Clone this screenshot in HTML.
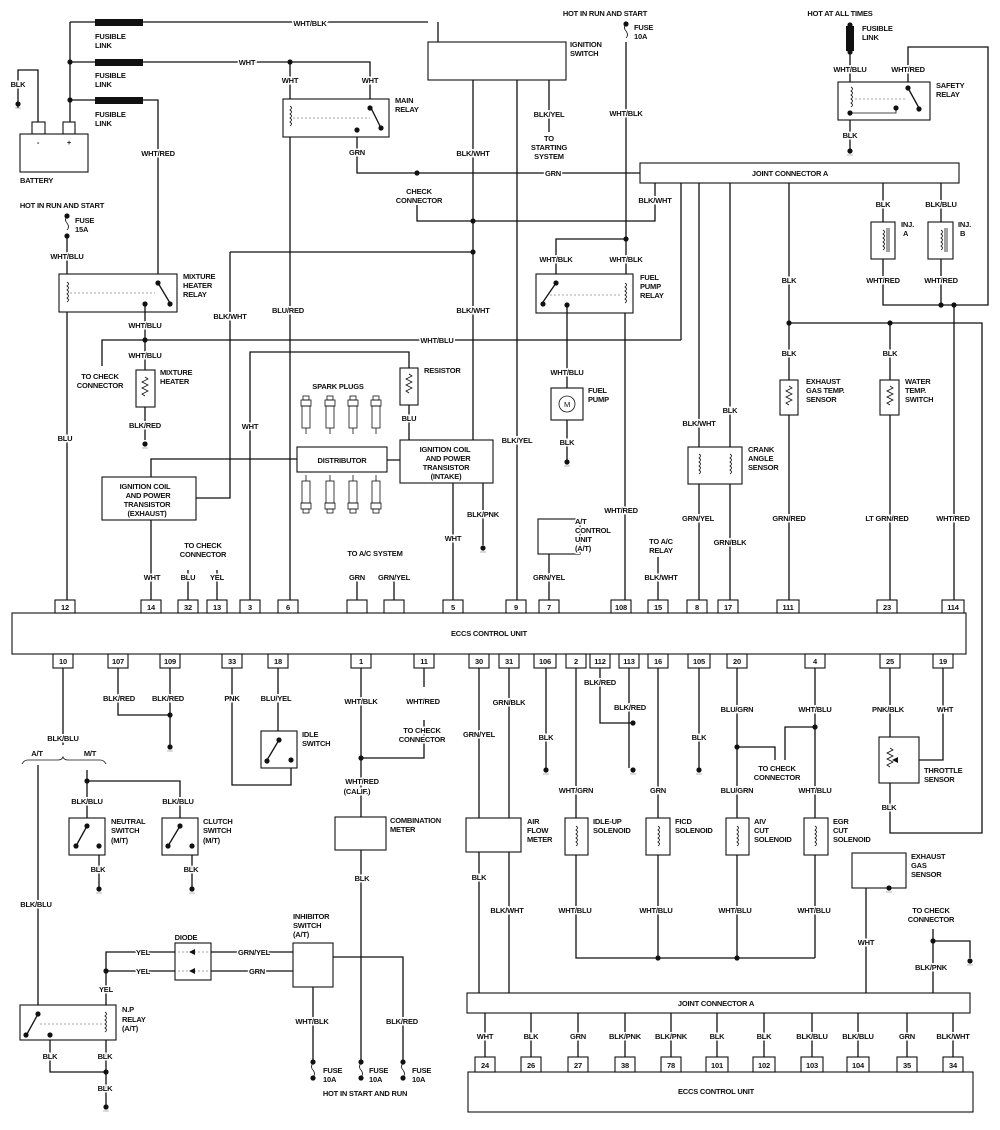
<!DOCTYPE html>
<html><head><meta charset="utf-8"><style>
html,body{margin:0;padding:0;background:#fff;}
svg{display:block;}
text{font-family:"Liberation Sans",sans-serif;font-weight:bold;font-size:7.5px;fill:#111;text-anchor:middle;stroke:#fff;stroke-width:3px;paint-order:stroke;letter-spacing:-0.2px;}
text.l{text-anchor:start;}
.w{stroke:#111;stroke-width:1.3;fill:none;}
.b{stroke:#111;stroke-width:1.1;fill:#fff;}
.d{stroke:#888;stroke-width:0.8;stroke-dasharray:2 2;fill:none;}
.c{stroke:#111;stroke-width:0.8;fill:none;}
</style></head><body>
<svg width="1000" height="1130" viewBox="0 0 1000 1130" xmlns="http://www.w3.org/2000/svg">
<defs>
<g id="gnd"><circle cx="0" cy="0" r="2.6" fill="#111"/><line x1="-3" y1="4" x2="3" y2="4" stroke="#999" stroke-width="0.7"/></g>
<g id="dot"><circle cx="0" cy="0" r="2.6" fill="#111"/></g>
<g id="coil"><path class="c" d="M0,0 q3,2 0,4 q3,2 0,4 q3,2 0,4 q3,2 0,4 q3,2 0,4"/></g>
<g id="res"><path class="c" d="M0,0 l3,2 l-6,3 l6,3 l-6,3 l6,3 l-6,3 l3,2"/></g>
<g id="plug"><rect x="-3" y="-4" width="6" height="4" class="c"/><rect x="-5" y="0" width="10" height="6" class="c"/><rect x="-4" y="6" width="8" height="22" class="c"/><line x1="0" y1="28" x2="0" y2="34" class="c"/></g>
<g id="plug2"><line x1="0" y1="-6" x2="0" y2="0" class="c"/><rect x="-4" y="0" width="8" height="22" class="c"/><rect x="-5" y="22" width="10" height="6" class="c"/><rect x="-3" y="28" width="6" height="4" class="c"/></g>
</defs>

<!-- ===== ECCS main ===== -->
<rect x="12" y="613" width="954" height="41" class="b"/>
<text x="489" y="636">ECCS CONTROL UNIT</text>
<g class="b">
<rect x="55" y="600" width="20" height="13"/><rect x="141" y="600" width="20" height="13"/><rect x="178" y="600" width="20" height="13"/><rect x="207" y="600" width="20" height="13"/><rect x="240" y="600" width="20" height="13"/><rect x="278" y="600" width="20" height="13"/><rect x="347" y="600" width="20" height="13"/><rect x="384" y="600" width="20" height="13"/><rect x="443" y="600" width="20" height="13"/><rect x="506" y="600" width="20" height="13"/><rect x="539" y="600" width="20" height="13"/><rect x="611" y="600" width="20" height="13"/><rect x="648" y="600" width="20" height="13"/><rect x="687" y="600" width="20" height="13"/><rect x="718" y="600" width="20" height="13"/><rect x="777" y="600" width="22" height="13"/><rect x="877" y="600" width="20" height="13"/><rect x="942" y="600" width="22" height="13"/>
<rect x="53" y="654" width="20" height="14"/><rect x="108" y="654" width="20" height="14"/><rect x="160" y="654" width="20" height="14"/><rect x="222" y="654" width="20" height="14"/><rect x="268" y="654" width="20" height="14"/><rect x="351" y="654" width="20" height="14"/><rect x="414" y="654" width="20" height="14"/><rect x="469" y="654" width="20" height="14"/><rect x="499" y="654" width="20" height="14"/><rect x="534" y="654" width="22" height="14"/><rect x="566" y="654" width="20" height="14"/><rect x="590" y="654" width="20" height="14"/><rect x="619" y="654" width="20" height="14"/><rect x="648" y="654" width="20" height="14"/><rect x="688" y="654" width="22" height="14"/><rect x="727" y="654" width="20" height="14"/><rect x="805" y="654" width="20" height="14"/><rect x="880" y="654" width="20" height="14"/><rect x="933" y="654" width="20" height="14"/>
</g>
<g>
<text x="65" y="610">12</text><text x="151" y="610">14</text><text x="188" y="610">32</text><text x="217" y="610">13</text><text x="250" y="610">3</text><text x="288" y="610">6</text><text x="453" y="610">5</text><text x="516" y="610">9</text><text x="549" y="610">7</text><text x="621" y="610">108</text><text x="658" y="610">15</text><text x="697" y="610">8</text><text x="728" y="610">17</text><text x="788" y="610">111</text><text x="887" y="610">23</text><text x="953" y="610">114</text>
<text x="63" y="664">10</text><text x="118" y="664">107</text><text x="170" y="664">109</text><text x="232" y="664">33</text><text x="278" y="664">18</text><text x="361" y="664">1</text><text x="424" y="664">11</text><text x="479" y="664">30</text><text x="509" y="664">31</text><text x="545" y="664">106</text><text x="576" y="664">2</text><text x="600" y="664">112</text><text x="629" y="664">113</text><text x="658" y="664">16</text><text x="699" y="664">105</text><text x="737" y="664">20</text><text x="815" y="664">4</text><text x="890" y="664">25</text><text x="943" y="664">19</text>
</g>

<!-- ===== Top left: battery & fusible links ===== -->
<g class="w">
<path d="M70,22 V125"/>
<path d="M70,22 H95 M135,22 H428 M438,22 V42"/>
<path d="M70,62 H95 M135,62 H370 V99 M290,62 V99"/>
<path d="M70,100 H95 M135,100 H158 V274"/>
<path d="M18,108 V70 H38 V125"/>
</g>
<g fill="#111"><rect x="95" y="19" width="48" height="7"/><rect x="95" y="59" width="48" height="7"/><rect x="95" y="97" width="48" height="7"/></g>
<use href="#dot" x="70" y="62"/><use href="#dot" x="70" y="100"/><use href="#dot" x="290" y="62"/><use href="#gnd" x="18" y="104"/>
<text class="l" x="95" y="39">FUSIBLE</text><text class="l" x="95" y="48">LINK</text>
<text class="l" x="95" y="78">FUSIBLE</text><text class="l" x="95" y="87">LINK</text>
<text class="l" x="95" y="117">FUSIBLE</text><text class="l" x="95" y="126">LINK</text>
<text x="310" y="26">WHT/BLK</text><text x="247" y="65">WHT</text><text x="18" y="87">BLK</text><text x="158" y="156">WHT/RED</text>
<rect x="32" y="122" width="13" height="12" class="b"/><rect x="63" y="122" width="12" height="12" class="b"/>
<rect x="20" y="134" width="68" height="38" class="b"/>
<text x="38" y="145">-</text><text x="69" y="145">+</text><text class="l" x="20" y="183">BATTERY</text>

<!-- ignition switch -->
<rect x="428" y="42" width="138" height="38" class="b"/>
<text class="l" x="570" y="47">IGNITION</text><text class="l" x="570" y="56">SWITCH</text>
<g class="w">
<path d="M473,80 V440"/><path d="M517,80 V600"/><path d="M549,80 V132"/>
<path d="M357,132 V173 H640"/>
<path d="M417,205 V221 H655 V183"/>
<path d="M230,252 H473"/>
<path d="M230,252 V498 H196"/>
</g>
<use href="#dot" x="417" y="173"/><use href="#dot" x="473" y="221"/><use href="#dot" x="473" y="252"/>
<text x="549" y="117">BLK/YEL</text><text x="549" y="141">TO</text><text x="549" y="150">STARTING</text><text x="549" y="159">SYSTEM</text>
<text x="553" y="176">GRN</text><text x="419" y="194">CHECK</text><text x="419" y="203">CONNECTOR</text>
<text x="473" y="156">BLK/WHT</text><text x="473" y="313">BLK/WHT</text><text x="655" y="203">BLK/WHT</text>

<!-- main relay -->
<rect x="283" y="99" width="106" height="38" class="b"/>
<use href="#coil" x="290" y="106"/><line x1="293" y1="118" x2="370" y2="118" class="d"/>
<g class="w"><path d="M370,106 L381,128"/></g><use href="#dot" x="370" y="108"/><use href="#dot" x="381" y="128"/><use href="#dot" x="357" y="130"/>
<text x="290" y="83">WHT</text><text x="370" y="83">WHT</text><text class="l" x="395" y="103">MAIN</text><text class="l" x="395" y="112">RELAY</text>
<text x="357" y="155">GRN</text>
<path class="w" d="M290,137 V600"/><text x="288" y="313">BLU/RED</text>

<!-- top center fuse -->
<text x="605" y="16">HOT IN RUN AND START</text>
<path class="c" d="M626,24 q-3,4 0,7 q3,4 0,7"/><use href="#dot" x="626" y="24"/>
<text class="l" x="634" y="30">FUSE</text><text class="l" x="634" y="39">10A</text>
<path class="w" d="M626,42 V274"/><use href="#dot" x="626" y="239"/>
<text x="626" y="116">WHT/BLK</text>
<path class="w" d="M556,274 V239 H626"/>

<!-- fuel pump relay -->
<rect x="536" y="274" width="97" height="39" class="b"/>
<use href="#coil" x="625" y="283"/><line x1="550" y1="295" x2="622" y2="295" class="d"/>
<path class="w" d="M556,283 L543,302"/><use href="#dot" x="556" y="283"/><use href="#dot" x="543" y="304"/><use href="#dot" x="567" y="305"/>
<text x="556" y="262">WHT/BLK</text><text x="626" y="262">WHT/BLK</text>
<text class="l" x="640" y="280">FUEL</text><text class="l" x="640" y="289">PUMP</text><text class="l" x="640" y="298">RELAY</text>
<path class="w" d="M567,305 V388 M567,420 V462"/><path class="w" d="M625,313 V600"/>
<rect x="551" y="388" width="32" height="32" class="b"/><circle cx="567" cy="404" r="8" class="c"/><text x="567" y="407" style="font-weight:normal">M</text>
<text x="567" y="375">WHT/BLU</text><text class="l" x="588" y="393">FUEL</text><text class="l" x="588" y="402">PUMP</text>
<text x="567" y="445">BLK</text><use href="#gnd" x="567" y="462"/>
<text x="621" y="513">WHT/RED</text>

<!-- safety relay -->
<text x="840" y="16">HOT AT ALL TIMES</text>
<rect x="846" y="26" width="8" height="25" fill="#111"/><use href="#dot" x="850" y="25"/><use href="#dot" x="850" y="52"/>
<text class="l" x="862" y="31">FUSIBLE</text><text class="l" x="862" y="40">LINK</text>
<path class="w" d="M850,52 V82 M850,120 V150"/>
<path class="w" d="M908,82 V47 H988 V305 H883 V259 M883,222 V183"/>
<rect x="838" y="82" width="92" height="38" class="b"/>
<use href="#coil" x="851" y="87"/><line x1="855" y1="99" x2="905" y2="99" class="d"/>
<path class="c" d="M850,113 H896 V108"/>
<path class="w" d="M908,88 L919,108"/><use href="#dot" x="908" y="88"/><use href="#dot" x="919" y="109"/><use href="#dot" x="896" y="108"/><use href="#dot" x="850" y="113"/>
<text x="850" y="72">WHT/BLU</text><text x="908" y="72">WHT/RED</text>
<text class="l" x="936" y="88">SAFETY</text><text class="l" x="936" y="97">RELAY</text>
<text x="850" y="138">BLK</text><use href="#gnd" x="850" y="151"/>

<!-- joint connector A top -->
<rect x="640" y="163" width="319" height="20" class="b"/>
<text x="790" y="176">JOINT CONNECTOR A</text>
<g class="w">
<path d="M681,183 V340"/><path d="M699,183 V600"/><path d="M730,183 V600"/><path d="M789,183 V380 M789,415 V600"/>
<path d="M941,183 V222 M941,259 V305"/><path d="M954,305 V600"/>
<path d="M789,323 H982 V833 H890 V783"/><path d="M890,323 V380 M890,415 V600"/>
</g>
<use href="#dot" x="941" y="305"/><use href="#dot" x="954" y="305"/><use href="#dot" x="789" y="323"/><use href="#dot" x="890" y="323"/>
<rect x="871" y="222" width="24" height="37" class="b"/><use href="#coil" x="883" y="230"/><path class="c" d="M887,228 V252 M889,228 V252"/>
<rect x="928" y="222" width="25" height="37" class="b"/><use href="#coil" x="941" y="230"/><path class="c" d="M945,228 V252 M947,228 V252"/>
<text x="883" y="207">BLK</text><text x="941" y="207">BLK/BLU</text>
<text class="l" x="901" y="227">INJ.</text><text class="l" x="903" y="236">A</text><text class="l" x="958" y="227">INJ.</text><text class="l" x="960" y="236">B</text>
<text x="883" y="283">WHT/RED</text><text x="941" y="283">WHT/RED</text>
<text x="789" y="283">BLK</text><text x="789" y="356">BLK</text><text x="890" y="356">BLK</text>
<rect x="780" y="380" width="18" height="35" class="b"/><use href="#res" x="789" y="386"/>
<rect x="880" y="380" width="19" height="35" class="b"/><use href="#res" x="890" y="386"/>
<text class="l" x="806" y="384">EXHAUST</text><text class="l" x="806" y="393">GAS TEMP.</text><text class="l" x="806" y="402">SENSOR</text>
<text class="l" x="905" y="384">WATER</text><text class="l" x="905" y="393">TEMP.</text><text class="l" x="905" y="402">SWITCH</text>
<text x="699" y="426">BLK/WHT</text><text x="730" y="413">BLK</text>
<rect x="688" y="447" width="54" height="37" class="b"/><use href="#coil" x="699" y="454"/><use href="#coil" x="730" y="454"/>
<text class="l" x="748" y="452">CRANK</text><text class="l" x="748" y="461">ANGLE</text><text class="l" x="748" y="470">SENSOR</text>
<text x="698" y="521">GRN/YEL</text><text x="730" y="545">GRN/BLK</text><text x="789" y="521">GRN/RED</text><text x="887" y="521">LT GRN/RED</text><text x="953" y="521">WHT/RED</text>

<!-- A/T CU & A/C relay -->
<rect x="538" y="519" width="42" height="35" class="b"/>
<text class="l" x="575" y="524">A/T</text><text class="l" x="575" y="533">CONTROL</text><text class="l" x="575" y="542">UNIT</text><text class="l" x="575" y="551">(A/T)</text>
<path class="w" d="M549,554 V600 M658,557 V600"/>
<text x="549" y="580">GRN/YEL</text><text x="661" y="544">TO A/C</text><text x="661" y="553">RELAY</text><text x="661" y="580">BLK/WHT</text>

<!-- left: mixture heater relay -->
<text x="62" y="208">HOT IN RUN AND START</text>
<path class="c" d="M67,216 q-3,4 0,7 q3,4 0,7"/><use href="#dot" x="67" y="216"/><use href="#dot" x="67" y="236"/>
<text class="l" x="75" y="223">FUSE</text><text class="l" x="75" y="232">15A</text>
<path class="w" d="M67,236 V274 M67,312 V600"/>
<text x="67" y="259">WHT/BLU</text>
<rect x="59" y="274" width="118" height="38" class="b"/>
<use href="#coil" x="67" y="282"/><line x1="70" y1="293" x2="155" y2="293" class="d"/>
<path class="w" d="M158,283 L170,303"/><use href="#dot" x="158" y="283"/><use href="#dot" x="170" y="304"/><use href="#dot" x="145" y="304"/>
<text class="l" x="183" y="279">MIXTURE</text><text class="l" x="183" y="288">HEATER</text><text class="l" x="183" y="297">RELAY</text>
<path class="w" d="M145,304 V370 M145,407 V440"/>
<path class="w" d="M102,366 V340 H681"/>
<use href="#dot" x="145" y="340"/>
<text x="145" y="328">WHT/BLU</text><text x="145" y="358">WHT/BLU</text><text x="437" y="343">WHT/BLU</text>
<text x="100" y="379">TO CHECK</text><text x="100" y="388">CONNECTOR</text>
<rect x="136" y="370" width="19" height="37" class="b"/><use href="#res" x="145" y="377"/>
<text class="l" x="160" y="375">MIXTURE</text><text class="l" x="160" y="384">HEATER</text>
<text x="145" y="428">BLK/RED</text><use href="#gnd" x="145" y="444"/>
<text x="65" y="441">BLU</text><text x="230" y="319">BLK/WHT</text>

<!-- resistor, plugs, distributor -->
<path class="w" d="M250,600 V352 H409 V368 M409,405 V440"/>
<text x="250" y="429">WHT</text>
<rect x="400" y="368" width="18" height="37" class="b"/><use href="#res" x="409" y="374"/>
<text class="l" x="424" y="373">RESISTOR</text><text x="409" y="421">BLU</text>
<text x="338" y="389">SPARK PLUGS</text>
<use href="#plug" x="306" y="400"/><use href="#plug" x="330" y="400"/><use href="#plug" x="353" y="400"/><use href="#plug" x="376" y="400"/>
<rect x="297" y="447" width="90" height="25" class="b"/><text x="342" y="463">DISTRIBUTOR</text>
<use href="#plug2" x="306" y="481"/><use href="#plug2" x="330" y="481"/><use href="#plug2" x="353" y="481"/><use href="#plug2" x="376" y="481"/>
<path class="w" d="M151,477 V459 H297 M387,460 H400"/>
<rect x="400" y="440" width="93" height="43" class="b"/>
<text x="445" y="452">IGNITION COIL</text><text x="448" y="461">AND POWER</text><text x="446" y="470">TRANSISTOR</text><text x="446" y="479">(INTAKE)</text>
<rect x="102" y="477" width="94" height="43" class="b"/>
<text x="145" y="489">IGNITION COIL</text><text x="148" y="498">AND POWER</text><text x="147" y="507">TRANSISTOR</text><text x="147" y="516">(EXHAUST)</text>
<path class="w" d="M453,483 V600 M483,483 V545 M151,520 V600 M188,570 V600 M217,570 V600 M357,575 V600 M394,575 V600"/>
<use href="#gnd" x="483" y="548"/>
<text x="483" y="517">BLK/PNK</text><text x="453" y="541">WHT</text><text x="517" y="443">BLK/YEL</text>
<text x="152" y="580">WHT</text><text x="188" y="580">BLU</text><text x="217" y="580">YEL</text>
<text x="203" y="548">TO CHECK</text><text x="203" y="557">CONNECTOR</text>
<text x="375" y="556">TO A/C SYSTEM</text><text x="357" y="580">GRN</text><text x="394" y="580">GRN/YEL</text>

<!-- ===== bottom left ===== -->
<g class="w">
<path d="M63,668 V745"/>
<path d="M118,668 V715 H170 M170,668 V745"/>
<path d="M232,668 V785 H291 V760"/>
<path d="M278,668 V740"/>
<path d="M361,668 V817 M361,849 V1062"/>
<path d="M424,668 V687 M424,720 V758 H361"/>
<path d="M38,765 V1005"/>
<path d="M87,770 V831 M87,781 H180 V818"/>
<path d="M99,845 V888 M192,845 V888"/>
</g>
<use href="#dot" x="170" y="715"/><use href="#gnd" x="170" y="747"/><use href="#dot" x="361" y="758"/><use href="#dot" x="87" y="781"/>
<use href="#gnd" x="99" y="889"/><use href="#gnd" x="192" y="889"/>
<text x="119" y="701">BLK/RED</text><text x="168" y="701">BLK/RED</text><text x="232" y="701">PNK</text><text x="276" y="701">BLU/YEL</text>
<text x="361" y="704">WHT/BLK</text><text x="423" y="704">WHT/RED</text><text x="422" y="733">TO CHECK</text><text x="422" y="742">CONNECTOR</text>
<text x="63" y="741">BLK/BLU</text><text x="37" y="756">A/T</text><text x="90" y="756">M/T</text>
<path class="c" d="M22,764 q2,-4 6,-4 H58 q4,0 5,-3 q1,3 5,3 H100 q4,0 6,4"/>
<rect x="261" y="731" width="36" height="37" class="b"/>
<path class="w" d="M279,740 L267,760"/><use href="#dot" x="279" y="740"/><use href="#dot" x="267" y="761"/><use href="#dot" x="291" y="760"/>
<text class="l" x="302" y="737">IDLE</text><text class="l" x="302" y="746">SWITCH</text>
<text x="362" y="784">WHT/RED</text><text x="357" y="794">(CALIF.)</text>
<rect x="335" y="817" width="51" height="33" class="b"/>
<text class="l" x="390" y="823">COMBINATION</text><text class="l" x="390" y="832">METER</text>
<text x="362" y="881">BLK</text>
<text x="87" y="804">BLK/BLU</text><text x="178" y="804">BLK/BLU</text>
<rect x="69" y="818" width="36" height="37" class="b"/><path class="w" d="M87,826 L76,846"/><use href="#dot" x="87" y="826"/><use href="#dot" x="76" y="846"/><use href="#dot" x="99" y="846"/>
<rect x="162" y="818" width="36" height="37" class="b"/><path class="w" d="M180,826 L168,846"/><use href="#dot" x="180" y="826"/><use href="#dot" x="168" y="846"/><use href="#dot" x="192" y="846"/>
<text class="l" x="111" y="824">NEUTRAL</text><text class="l" x="111" y="833">SWITCH</text><text class="l" x="111" y="843">(M/T)</text>
<text class="l" x="203" y="824">CLUTCH</text><text class="l" x="203" y="833">SWITCH</text><text class="l" x="203" y="843">(M/T)</text>
<text x="98" y="872">BLK</text><text x="191" y="872">BLK</text>
<text x="36" y="907">BLK/BLU</text>

<!-- diode, inhibitor, NP relay -->
<g class="w">
<path d="M106,1005 V952 H175 M106,971 H175"/>
<path d="M211,952 H293 M211,971 H293"/>
<path d="M333,957 H403 V1062"/>
<path d="M313,987 V1062"/>
<path d="M50,1035 V1072 H106 M106,1040 V1107"/>
</g>
<use href="#dot" x="106" y="971"/><use href="#dot" x="106" y="1072"/>
<text x="143" y="955">YEL</text><text x="143" y="974">YEL</text><text x="254" y="955">GRN/YEL</text><text x="257" y="974">GRN</text>
<rect x="175" y="943" width="36" height="37" class="b"/>
<line x1="178" y1="952" x2="208" y2="952" class="d"/><line x1="178" y1="971" x2="208" y2="971" class="d"/>
<path d="M189,952 l6,-3 v6 z M189,971 l6,-3 v6 z" fill="#111"/>
<text x="186" y="940">DIODE</text>
<rect x="293" y="943" width="40" height="44" class="b"/>
<text class="l" x="293" y="919">INHIBITOR</text><text class="l" x="293" y="928">SWITCH</text><text class="l" x="293" y="937">(A/T)</text>
<text x="106" y="992">YEL</text>
<rect x="20" y="1005" width="96" height="35" class="b"/>
<line x1="40" y1="1024" x2="104" y2="1024" class="d"/><use href="#coil" x="105" y="1012"/>
<path class="w" d="M38,1014 L27,1034"/><use href="#dot" x="38" y="1014"/><use href="#dot" x="26" y="1035"/><use href="#dot" x="50" y="1035"/>
<text class="l" x="122" y="1012">N.P</text><text class="l" x="122" y="1022">RELAY</text><text class="l" x="122" y="1031">(A/T)</text>
<text x="50" y="1059">BLK</text><text x="105" y="1059">BLK</text><text x="105" y="1091">BLK</text><use href="#gnd" x="106" y="1107"/>
<text x="312" y="1024">WHT/BLK</text><text x="402" y="1024">BLK/RED</text>
<path class="c" d="M313,1063 q-3,4 0,7 q3,4 0,7 M361,1063 q-3,4 0,7 q3,4 0,7 M403,1063 q-3,4 0,7 q3,4 0,7"/>
<use href="#dot" x="313" y="1062"/><use href="#dot" x="361" y="1062"/><use href="#dot" x="403" y="1062"/>
<use href="#dot" x="313" y="1078"/><use href="#dot" x="361" y="1078"/><use href="#dot" x="403" y="1078"/>
<text class="l" x="323" y="1073">FUSE</text><text class="l" x="323" y="1082">10A</text>
<text class="l" x="369" y="1073">FUSE</text><text class="l" x="369" y="1082">10A</text>
<text class="l" x="412" y="1073">FUSE</text><text class="l" x="412" y="1082">10A</text>
<text x="365" y="1096">HOT IN START AND RUN</text>

<!-- ===== bottom right ===== -->
<g class="w">
<path d="M479,668 V818 M479,852 V993"/><path d="M509,668 V818 M509,852 V993"/>
<path d="M546,668 V768"/>
<path d="M576,668 V818 M576,855 V958 H815"/>
<path d="M600,668 V723 H633 M629,668 V768"/>
<path d="M658,668 V818 M658,855 V958"/>
<path d="M699,668 V768"/>
<path d="M737,668 V818 M737,855 V958 M737,747 H775 V760"/>
<path d="M815,668 V818 M815,855 V958 M815,727 H785 V760"/>
<path d="M890,668 V737"/>
<path d="M943,668 V760 H911 M911,760 H899"/>
<path d="M866,888 V993"/>
<path d="M933,929 V993 M933,941 H970 V958"/>
</g>
<use href="#dot" x="633" y="723"/><use href="#dot" x="658" y="958"/><use href="#dot" x="737" y="958"/><use href="#dot" x="737" y="747"/><use href="#dot" x="815" y="727"/><use href="#dot" x="933" y="941"/><use href="#dot" x="911" y="760"/>
<use href="#gnd" x="546" y="770"/><use href="#gnd" x="633" y="770"/><use href="#gnd" x="699" y="770"/><use href="#gnd" x="970" y="961"/>
<text x="509" y="705">GRN/BLK</text><text x="479" y="737">GRN/YEL</text><text x="546" y="740">BLK</text><text x="600" y="685">BLK/RED</text><text x="630" y="710">BLK/RED</text><text x="699" y="740">BLK</text>
<text x="737" y="712">BLU/GRN</text><text x="815" y="712">WHT/BLU</text><text x="888" y="712">PNK/BLK</text><text x="945" y="712">WHT</text>
<text x="777" y="771">TO CHECK</text><text x="777" y="780">CONNECTOR</text>
<text x="576" y="793">WHT/GRN</text><text x="658" y="793">GRN</text><text x="737" y="793">BLU/GRN</text><text x="815" y="793">WHT/BLU</text>
<rect x="879" y="737" width="40" height="46" class="b"/>
<use href="#res" x="890" y="748"/><path d="M892,760 l6,-3 v6 z" fill="#111"/>
<text class="l" x="924" y="773">THROTTLE</text><text class="l" x="924" y="782">SENSOR</text>
<text x="889" y="810">BLK</text>
<rect x="466" y="818" width="55" height="34" class="b"/>
<text class="l" x="527" y="824">AIR</text><text class="l" x="527" y="833">FLOW</text><text class="l" x="527" y="842">METER</text>
<rect x="565" y="818" width="23" height="37" class="b"/><use href="#coil" x="576" y="826"/>
<rect x="646" y="818" width="24" height="37" class="b"/><use href="#coil" x="658" y="826"/>
<rect x="726" y="818" width="23" height="37" class="b"/><use href="#coil" x="737" y="826"/>
<rect x="804" y="818" width="24" height="37" class="b"/><use href="#coil" x="815" y="826"/>
<text class="l" x="593" y="824">IDLE-UP</text><text class="l" x="593" y="833">SOLENOID</text>
<text class="l" x="675" y="824">FICD</text><text class="l" x="675" y="833">SOLENOID</text>
<text class="l" x="754" y="824">AIV</text><text class="l" x="754" y="833">CUT</text><text class="l" x="754" y="842">SOLENOID</text>
<text class="l" x="833" y="824">EGR</text><text class="l" x="833" y="833">CUT</text><text class="l" x="833" y="842">SOLENOID</text>
<rect x="852" y="853" width="54" height="35" class="b"/><use href="#gnd" x="889" y="888"/>
<text class="l" x="911" y="859">EXHAUST</text><text class="l" x="911" y="868">GAS</text><text class="l" x="911" y="877">SENSOR</text>
<text x="479" y="880">BLK</text><text x="507" y="913">BLK/WHT</text>
<text x="575" y="913">WHT/BLU</text><text x="656" y="913">WHT/BLU</text><text x="735" y="913">WHT/BLU</text><text x="814" y="913">WHT/BLU</text>
<text x="866" y="945">WHT</text><text x="931" y="913">TO CHECK</text><text x="931" y="922">CONNECTOR</text><text x="931" y="970">BLK/PNK</text>

<!-- bottom joint connector & ECCS -->
<rect x="467" y="993" width="503" height="20" class="b"/>
<text x="716" y="1006">JOINT CONNECTOR A</text>
<g class="w"><path d="M485,1013 V1057 M531,1013 V1057 M578,1013 V1057 M625,1013 V1057 M671,1013 V1057 M717,1013 V1057 M764,1013 V1057 M812,1013 V1057 M858,1013 V1057 M907,1013 V1057 M953,1013 V1057"/></g>
<text x="485" y="1039">WHT</text><text x="531" y="1039">BLK</text><text x="578" y="1039">GRN</text><text x="625" y="1039">BLK/PNK</text><text x="671" y="1039">BLK/PNK</text><text x="717" y="1039">BLK</text><text x="764" y="1039">BLK</text><text x="812" y="1039">BLK/BLU</text><text x="858" y="1039">BLK/BLU</text><text x="907" y="1039">GRN</text><text x="953" y="1039">BLK/WHT</text>
<rect x="468" y="1072" width="505" height="40" class="b"/>
<g class="b"><rect x="475" y="1057" width="20" height="15"/><rect x="521" y="1057" width="20" height="15"/><rect x="568" y="1057" width="20" height="15"/><rect x="615" y="1057" width="20" height="15"/><rect x="661" y="1057" width="20" height="15"/><rect x="706" y="1057" width="22" height="15"/><rect x="753" y="1057" width="22" height="15"/><rect x="801" y="1057" width="22" height="15"/><rect x="847" y="1057" width="22" height="15"/><rect x="897" y="1057" width="20" height="15"/><rect x="943" y="1057" width="20" height="15"/></g>
<text x="485" y="1068">24</text><text x="531" y="1068">26</text><text x="578" y="1068">27</text><text x="625" y="1068">38</text><text x="671" y="1068">78</text><text x="717" y="1068">101</text><text x="764" y="1068">102</text><text x="812" y="1068">103</text><text x="858" y="1068">104</text><text x="907" y="1068">35</text><text x="953" y="1068">34</text>
<text x="716" y="1094">ECCS CONTROL UNIT</text>
</svg>
</body></html>
